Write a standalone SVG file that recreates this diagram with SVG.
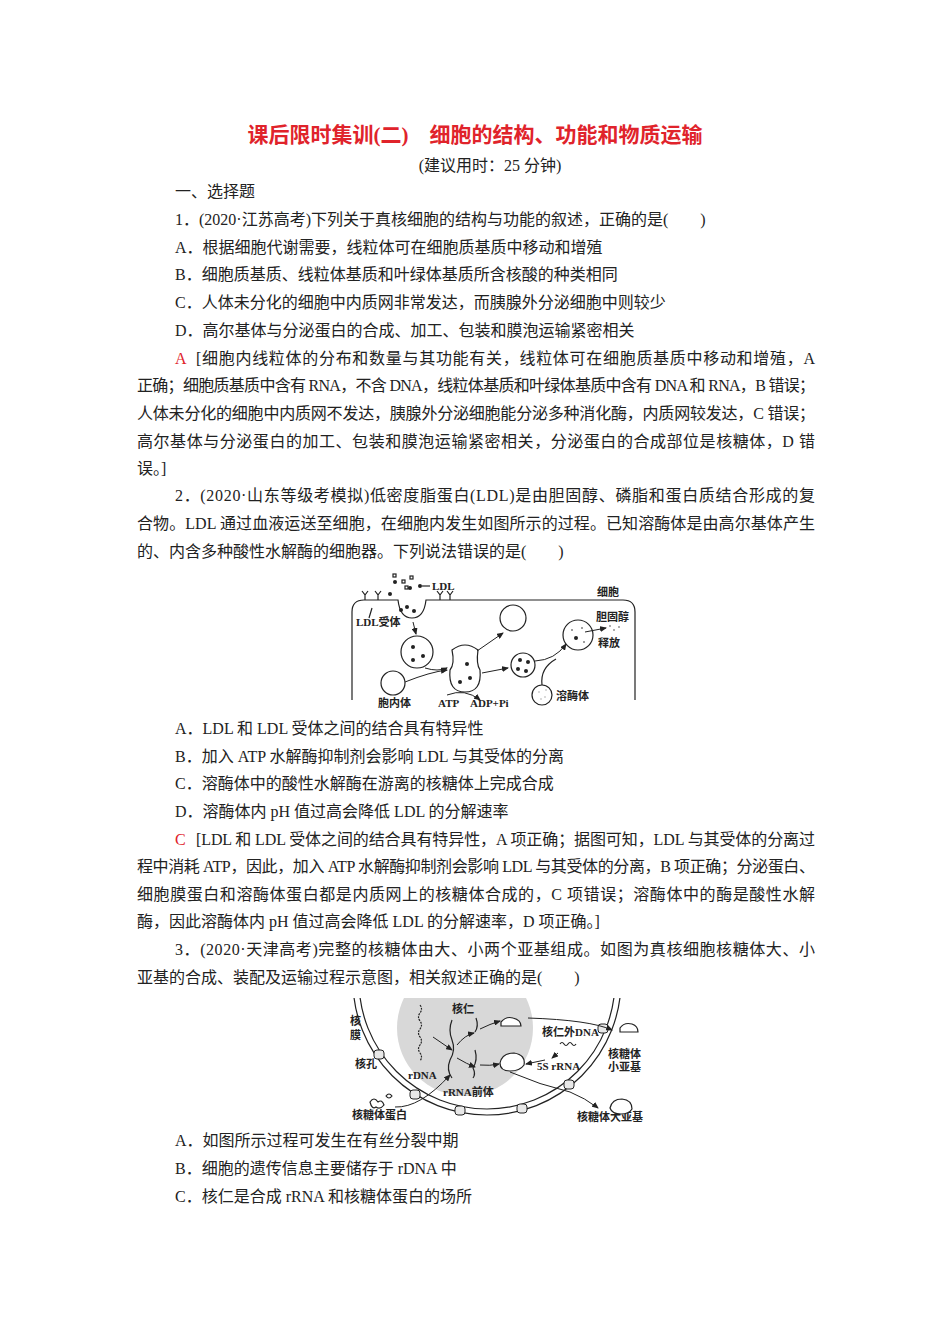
<svg xmlns="http://www.w3.org/2000/svg" width="950" height="1344" viewBox="0 0 950 1344">
<style>
text{font-family:"Liberation Serif","Noto Sans CJK SC",serif;font-size:16px;fill:#222}
.t{font-size:21px;font-weight:bold;fill:#e0232b}
.r{fill:#e0232b}
.f{font-size:11px;font-weight:bold}
.l{fill:none;stroke:#222;stroke-width:1.2}
.w{fill:#fff;stroke:#222;stroke-width:1.2}
.a{fill:none;stroke:#222;stroke-width:1;marker-end:url(#ah)}
</style>
<defs>
<marker id="ah" markerWidth="7" markerHeight="6" refX="6" refY="3" orient="auto"><path d="M0,0L7,3L0,6z" fill="#222"/></marker>
<clipPath id="cp"><rect x="330" y="998" width="330" height="130"/></clipPath>
</defs>
<rect width="950" height="1344" fill="#fff"/>
<text class="t" x="475" y="142" text-anchor="middle">课后限时集训(二)　细胞的结构、功能和物质运输</text>
<text x="490" y="171" text-anchor="middle">(建议用时：25 分钟)</text>
<text x="175" y="197">一、选择题</text>
<text x="175" y="225">1．(2020·江苏高考)下列关于真核细胞的结构与功能的叙述，正确的是(　　)</text>
<text x="175" y="253">A．根据细胞代谢需要，线粒体可在细胞质基质中移动和增殖</text>
<text x="175" y="280">B．细胞质基质、线粒体基质和叶绿体基质所含核酸的种类相同</text>
<text x="175" y="308">C．人体未分化的细胞中内质网非常发达，而胰腺外分泌细胞中则较少</text>
<text x="175" y="336">D．高尔基体与分泌蛋白的合成、加工、包装和膜泡运输紧密相关</text>
<text class="r" x="175" y="364">A</text>
<text x="196" y="364" textLength="619" lengthAdjust="spacing">[细胞内线粒体的分布和数量与其功能有关，线粒体可在细胞质基质中移动和增殖，A</text>
<text x="137" y="391" textLength="678" lengthAdjust="spacing">正确；细胞质基质中含有 RNA，不含 DNA，线粒体基质和叶绿体基质中含有 DNA 和 RNA，B 错误；</text>
<text x="137" y="419" textLength="678" lengthAdjust="spacing">人体未分化的细胞中内质网不发达，胰腺外分泌细胞能分泌多种消化酶，内质网较发达，C 错误；</text>
<text x="137" y="447" textLength="678" lengthAdjust="spacing">高尔基体与分泌蛋白的加工、包装和膜泡运输紧密相关，分泌蛋白的合成部位是核糖体，D 错</text>
<text x="137" y="474">误。]</text>
<text x="175" y="501" textLength="640" lengthAdjust="spacing">2．(2020·山东等级考模拟)低密度脂蛋白(LDL)是由胆固醇、磷脂和蛋白质结合形成的复</text>
<text x="137" y="529" textLength="678" lengthAdjust="spacing">合物。LDL 通过血液运送至细胞，在细胞内发生如图所示的过程。已知溶酶体是由高尔基体产生</text>
<text x="137" y="557">的、内含多种酸性水解酶的细胞器。下列说法错误的是(　　)</text>

<g id="fig1">
<path class="l" d="M352,700 V612 Q352,600 364,600 H398 Q400,618 412,618 Q424,618 426,600 H623 Q635,600 635,612 V700"/>
<g fill="#222"><circle cx="395" cy="582" r="2"/><circle cx="410" cy="588" r="2"/><circle cx="420" cy="586" r="2"/><circle cx="390" cy="594" r="2"/><circle cx="407" cy="607" r="2"/><circle cx="414" cy="611" r="2"/><circle cx="401" cy="610" r="2"/></g>
<g class="l"><rect x="393" y="574" width="3" height="3"/><rect x="402" y="580" width="3" height="3"/><rect x="410" y="576" width="3" height="3"/><rect x="405" y="586" width="3" height="3"/></g>
<line class="l" x1="422" y1="586" x2="430" y2="586"/>
<text class="f" x="432" y="590">LDL</text>
<text class="f" x="597" y="596">细胞</text>
<path class="l" d="M365,600 v-5 l-3,-4 M365,595 l3,-4 M378,600 v-5 l-3,-4 M378,595 l3,-4 M440,600 v-5 l-3,-4 M440,595 l3,-4 M450,600 v-5 l-3,-4 M450,595 l3,-4 M372,608 l-3,10"/>
<text class="f" x="356" y="626">LDL受体</text>
<circle class="w" cx="417" cy="652" r="16"/>
<g fill="#222"><circle cx="413" cy="647" r="2"/><circle cx="423" cy="656" r="2"/><circle cx="413" cy="660" r="2"/></g>
<path class="a" d="M413,622 L416,634"/>
<circle class="w" cx="393" cy="683" r="12"/>
<text class="f" x="378" y="707">胞内体</text>
<path class="a" d="M405,682 Q430,672 447,670"/>
<path class="a" d="M425,668 Q438,672 447,668"/>
<path class="w" d="M452,650 Q465,640 478,650 Q476,664 480,670 Q482,692 465,692 Q448,692 450,670 Q455,664 452,650z"/>
<g fill="#222"><circle cx="467" cy="664" r="2"/><circle cx="470" cy="678" r="2"/><circle cx="460" cy="682" r="2"/></g>
<path class="a" d="M447,695 Q465,688 480,700"/>
<text class="f" x="438" y="707">ATP</text>
<text class="f" x="470" y="707">ADP+Pi</text>
<path class="a" d="M477,651 L503,633"/>
<circle class="w" cx="513" cy="618" r="13"/>
<path class="a" d="M482,673 L508,668"/>
<circle class="w" cx="523" cy="665" r="12"/>
<g fill="#222"><circle cx="520" cy="660" r="2"/><circle cx="528" cy="662" r="2"/><circle cx="518" cy="669" r="2"/><circle cx="526" cy="671" r="2"/></g>
<circle class="w" cx="542" cy="695" r="10" stroke-dasharray="0"/>
<g fill="#999"><circle cx="539" cy="692" r=".7"/><circle cx="545" cy="697" r=".7"/><circle cx="541" cy="699" r=".7"/><circle cx="546" cy="690" r=".7"/></g>
<text class="f" x="556" y="700">溶酶体</text>
<path class="a" d="M535,661 Q555,660 566,644"/>
<path class="l" d="M542,685 Q540,668 556,659"/>
<circle class="w" cx="578" cy="635" r="15"/>
<g fill="#222"><circle cx="576" cy="638" r="2"/><circle cx="572" cy="630" r=".8"/><circle cx="584" cy="642" r=".8"/><circle cx="582" cy="628" r=".8"/></g>
<path class="a" d="M585,632 L606,628"/>
<g fill="#444"><circle cx="610" cy="626" r=".8"/><circle cx="614" cy="630" r=".8"/><circle cx="619" cy="627" r=".8"/></g>
<text class="f" x="596" y="621">胆固醇</text>
<text class="f" x="598" y="647">释放</text>
</g>

<text x="175" y="734">A．LDL 和 LDL 受体之间的结合具有特异性</text>
<text x="175" y="762">B．加入 ATP 水解酶抑制剂会影响 LDL 与其受体的分离</text>
<text x="175" y="789">C．溶酶体中的酸性水解酶在游离的核糖体上完成合成</text>
<text x="175" y="817">D．溶酶体内 pH 值过高会降低 LDL 的分解速率</text>
<text class="r" x="175" y="845">C</text>
<text x="196" y="845" textLength="619" lengthAdjust="spacing">[LDL 和 LDL 受体之间的结合具有特异性，A 项正确；据图可知，LDL 与其受体的分离过</text>
<text x="137" y="872" textLength="678" lengthAdjust="spacing">程中消耗 ATP，因此，加入 ATP 水解酶抑制剂会影响 LDL 与其受体的分离，B 项正确；分泌蛋白、</text>
<text x="137" y="900" textLength="678" lengthAdjust="spacing">细胞膜蛋白和溶酶体蛋白都是内质网上的核糖体合成的，C 项错误；溶酶体中的酶是酸性水解</text>
<text x="137" y="927">酶，因此溶酶体内 pH 值过高会降低 LDL 的分解速率，D 项正确。]</text>
<text x="175" y="955" textLength="640" lengthAdjust="spacing">3．(2020·天津高考)完整的核糖体由大、小两个亚基组成。如图为真核细胞核糖体大、小</text>
<text x="137" y="983">亚基的合成、装配及运输过程示意图，相关叙述正确的是(　　)</text>

<g id="fig2">
<g clip-path="url(#cp)">
<circle cx="465" cy="1028" r="68" fill="#d8d8d8"/>
<circle class="l" cx="487" cy="981" r="134"/>
<circle class="l" cx="487" cy="981" r="128"/>
</g>
<g fill="#e8e8e8" stroke="#222" stroke-width="1">
<rect x="374" y="1050" width="10" height="9" rx="3"/>
<rect x="410" y="1090" width="10" height="9" rx="3"/>
<rect x="455" y="1106" width="10" height="9" rx="3"/>
<rect x="517" y="1104" width="10" height="9" rx="3"/>
<rect x="564" y="1080" width="10" height="9" rx="3"/>
<rect x="598" y="1024" width="10" height="9" rx="3"/>
</g>
<path class="l" d="M420,1005 q3,4 0,8 q-3,4 0,8 q3,4 0,8 q-3,4 0,8 q3,4 0,8 q-3,4 0,8 q3,4 0,8" stroke-dasharray="2 1"/>
<path class="l" stroke-width="2" d="M452,1020 q-4,10 0,20 q4,10 -2,20 q-4,10 2,18"/>
<path class="l" stroke-width="2" d="M476,1018 q3,8 -1,14 M475,1050 q3,10 -2,18 q3,6 0,10"/>
<text class="f" x="452" y="1013">核仁</text>
<text class="f" x="350" y="1025">核</text>
<text class="f" x="350" y="1039">膜</text>
<text class="f" x="355" y="1068">核孔</text>
<text class="f" x="408" y="1079">rDNA</text>
<text class="f" x="443" y="1096">rRNA前体</text>
<text class="f" x="542" y="1036">核仁外DNA</text>
<path class="l" d="M560,1044 q2,-3 4,0 q2,3 4,0 q2,-3 4,0 q2,3 4,0"/>
<text class="f" x="537" y="1070">5S rRNA</text>
<text class="f" x="608" y="1058">核糖体</text>
<text class="f" x="608" y="1071">小亚基</text>
<text class="f" x="352" y="1119">核糖体蛋白</text>
<text class="f" x="577" y="1121">核糖体大亚基</text>
<path class="w" d="M501,1022 q5,-6 12,-4 q8,2 8,8 h-20z"/>
<path class="w" d="M500,1063 q2,-10 14,-10 q12,2 10,12 q-4,6 -14,6 q-10,0 -10,-8z"/>
<path class="w" d="M620,1028 q4,-6 12,-4 q6,2 6,8 h-18z"/>
<path class="w" d="M610,1108 q2,-9 12,-9 q10,1 10,10 q-3,5 -11,5 q-9,0 -11,-6z"/>
<path class="l" d="M370,1102 q4,-6 8,0 q4,-3 6,3 q-4,5 -8,2 q-4,3 -6,-5z M386,1096 q3,-4 6,0 q-3,4 -6,0z"/>
<path class="a" d="M433,1037 L452,1050"/>
<path class="a" d="M457,1045 Q465,1035 474,1033"/>
<path class="a" d="M457,1058 Q467,1064 475,1067"/>
<path class="a" d="M480,1029 Q490,1024 500,1021"/>
<path class="a" d="M480,1065 Q490,1066 499,1064"/>
<path class="a" d="M395,1107 Q420,1108 450,1075"/>
<path class="a" d="M528,1018 Q590,1020 612,1030"/>
<path class="a" d="M558,1053 L552,1058"/>
<path class="a" d="M545,1060 L526,1064"/>
<path class="a" d="M510,1072 Q540,1085 570,1092 Q585,1098 598,1108"/>
</g>

<text x="175" y="1146">A．如图所示过程可发生在有丝分裂中期</text>
<text x="175" y="1174">B．细胞的遗传信息主要储存于 rDNA 中</text>
<text x="175" y="1202">C．核仁是合成 rRNA 和核糖体蛋白的场所</text>
</svg>
